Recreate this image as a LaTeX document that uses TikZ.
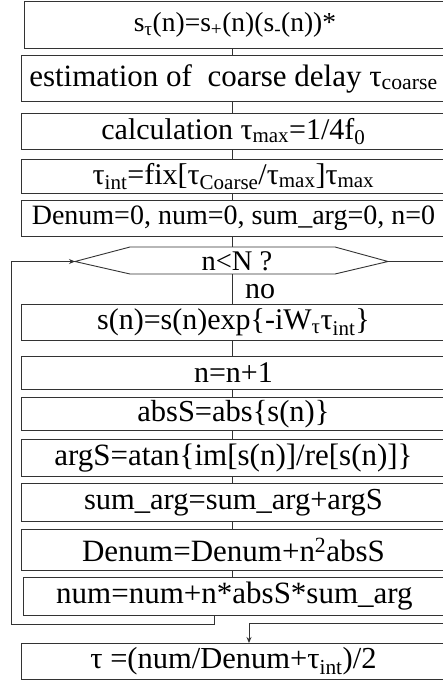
\documentclass[tikz,border=0pt]{standalone}
\usepackage{fontspec}
\setmainfont{Liberation Serif}
\usetikzlibrary{arrows.meta}
\newcommand\fs[1]{\fontsize{#1}{#1}\selectfont}
\tikzset{
  box/.style={draw=black!80, line width=0.9pt, rectangle, anchor=north west,
    inner sep=0pt, font=\fs{30}},
  ln/.style={draw=black!80, line width=0.9pt},
  arr/.style={ln, -{Stealth[length=6pt,width=5pt]}},
  lbl/.style={inner sep=0pt, font=\fs{30}}
}
\begin{document}
\begin{tikzpicture}[x=1pt,y=-1pt]
\useasboundingbox[fill=white] (0,0) rectangle (442,684);
% column for connectors
\coordinate (cx) at (232,0);
\coordinate (ax) at (249,0);
% boxes
\node[box, minimum width=421pt, minimum height=46.7pt, font=\fs{27.5}] (b1) at (24,1)
  {s\textsubscript{τ}(n)=s\textsubscript{+}(n)(s\textsubscript{-}(n))*\hspace{51pt}};
\node[box, minimum width=424pt, minimum height=46pt, font=\fs{31}] (b2) at (21,55)
  {estimation of\ \ coarse delay τ\textsubscript{coarse}};
\node[box, minimum width=424pt, minimum height=36pt, font=\fs{30}] (b3) at (21,113)
  {calculation τ\textsubscript{max}=1/4f\textsubscript{0}\hspace{32pt}};
\node[box, minimum width=424pt, minimum height=34pt] (b4) at (21,159)
  {τ\textsubscript{int}=fix[τ\textsubscript{Coarse}/τ\textsubscript{max}]τ\textsubscript{max}\hspace{10pt}};
\node[box, minimum width=424pt, minimum height=36pt, font=\fs{28}] (b5) at (21,200)
  {Denum=0, num=0, sum\_arg=0, n=0\hspace{10pt}};
% decision hexagon
\coordinate (hexL) at (75,261.5);
\coordinate (hexR) at (388,261.5);
\coordinate (hexT) at (232,247);
\coordinate (hexB) at (232,274);
\draw[ln] (hexL) -- (130,247) -- (335,247) -- (hexR) -- (335,274) -- (130,274) -- cycle;
\node[lbl, font=\fs{28.5}] (hx) at (237,261.5) {n<N ?};
\node[lbl] (no) at (260,291.5) {no};
\node[box, minimum width=424pt, minimum height=36pt] (b6) at (21,304)
  {s(n)=s(n)exp\{-iW\textsubscript{τ}τ\textsubscript{int}\}\hspace{6pt}};
\node[box, minimum width=424pt, minimum height=33pt] (b7) at (21,356)
  {n=n+1};
\node[box, minimum width=424pt, minimum height=33pt, font=\fs{30.5}] (b8) at (21,397)
  {absS=abs\{s(n)\}\hspace{18pt}};
\node[box, minimum width=424pt, minimum height=37pt, font=\fs{31}] (b9) at (21,439)
  {argS=atan\{im[s(n)]/re[s(n)]\}};
\node[box, minimum width=424pt, minimum height=38pt, font=\fs{30.5}] (b10) at (21,483)
  {sum\_arg=sum\_arg+argS};
\node[box, minimum width=424pt, minimum height=41pt, font=\fs{31}] (b11) at (21,529)
  {Denum=Denum+n\textsuperscript{2}absS\hspace{10pt}};
\node[box, minimum width=422pt, minimum height=38pt, font=\fs{31}] (b12) at (23,577)
  {num=num+n*absS*sum\_arg\hspace{4pt}};
\node[box, minimum width=424pt, minimum height=36pt, font=\fs{30.5}] (b13) at (21,643)
  {τ =(num/Denum+τ\textsubscript{int})/2\hspace{2pt}};
% straight connectors
\draw[ln] (b1.south -| cx) -- (b2.north -| cx);
\draw[ln] (b2.south -| cx) -- (b3.north -| cx);
\draw[ln] (b3.south -| cx) -- (b4.north -| cx);
\draw[ln] (b4.south -| cx) -- (b5.north -| cx);
\draw[ln] (b5.south -| cx) -- (hexT);
\draw[ln] (hexB) -- (b6.north -| cx);
\draw[ln] (b6.south -| cx) -- (b7.north -| cx);
\draw[ln] (b7.south -| cx) -- (b8.north -| cx);
\draw[ln] (b8.south -| cx) -- (b9.north -| cx);
\draw[ln] (b9.south -| cx) -- (b10.north -| cx);
\draw[ln] (b10.south -| cx) -- (b11.north -| cx);
\draw[ln] (b11.south -| cx) -- (b12.north -| cx);
% loop back
\coordinate (lb) at (214,624.5);
\coordinate (ll) at (11,624.5);
\draw[arr] (b12.south -| lb) -- (lb) -- (ll) |- (hexL);
% exit to the right
\coordinate (rE) at (470,261.5);
\coordinate (rE2) at (470,623.5);
\draw[ln] (hexR) -- (rE);
\draw[arr] (rE2) -| (b13.north -| ax);
\end{tikzpicture}
\end{document}
